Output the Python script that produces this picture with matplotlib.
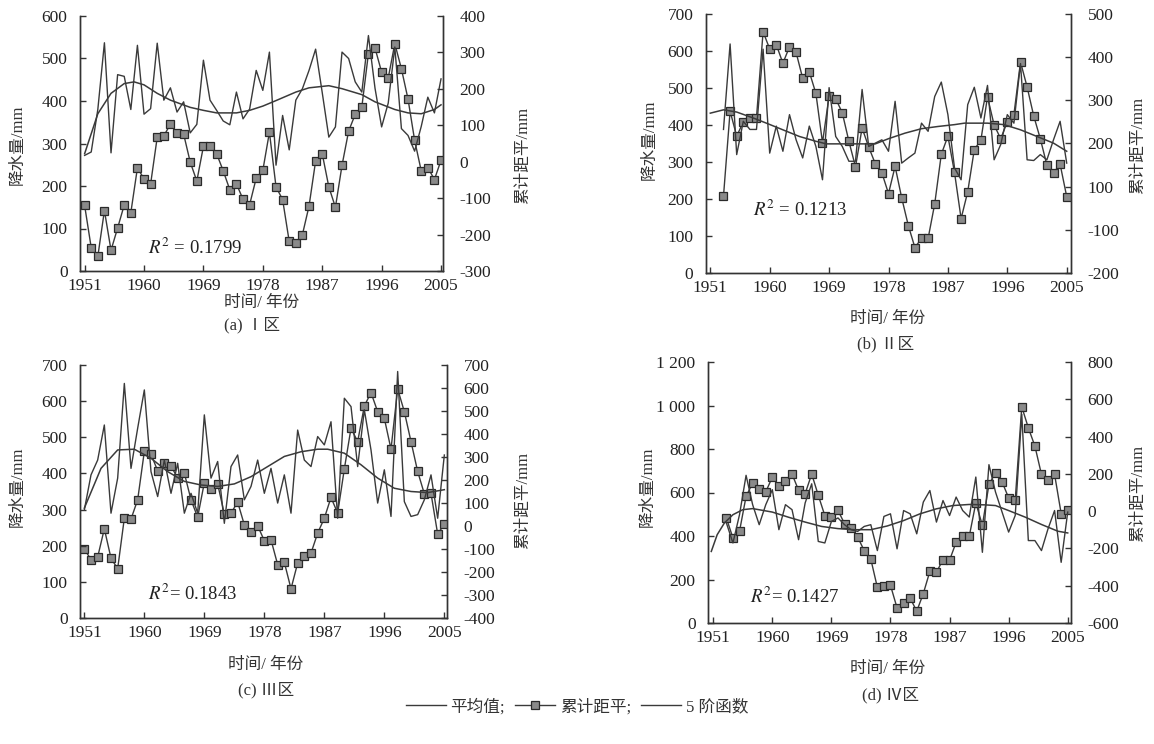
from __future__ import annotations

import matplotlib

matplotlib.use("Agg")
import matplotlib.pyplot as plt
from matplotlib.lines import Line2D

plt.rcParams["font.family"] = ["Liberation Serif", "Noto Sans CJK SC"]
plt.rcParams["mathtext.fontset"] = "stix"
plt.rcParams["axes.unicode_minus"] = False

W, H = 1154, 744
LINE = "#3a3a3a"
FILL = "#8a8a8a"

TICK_YEARS = [1951, 1960, 1969, 1978, 1987, 1996, 2005]
LEGEND_LABELS = ["平均值;", "累计距平;", "5 阶函数"]

# (a) I 区
YEARS_A = list(range(1951, 2006))
PRECIP_A = [272, 280, 380, 537, 278, 462, 458, 380, 531, 369,
            382, 536, 402, 431, 374, 398, 325, 345, 496, 402,
            378, 353, 344, 421, 358, 381, 472, 425, 515, 249,
            366, 285, 402, 429, 472, 522, 420, 315, 339, 515,
            500, 445, 421, 554, 430, 339, 395, 527, 335, 319,
            282, 340, 409, 372, 452]
CUM_A = [-120, -236, -260, -134, -243, -182, -119, -140, -17, -47,
         -61, 67, 71, 103, 80, 76, -1, -53, 42, 42,
         22, -25, -77, -61, -103, -118, -45, -24, 81, -69,
         -104, -219, -224, -200, -122, 2, 22, -69, -125, -10,
         84, 130, 150, 297, 312, 246, 230, 324, 255, 172,
         59, -25, -16, -49, 4]
POLY_YEARS_A = [1951, 1953, 1955, 1957, 1958.5, 1960, 1962, 1964, 1967, 1969, 1971, 1974, 1976,
                1978, 1980, 1983, 1985, 1988, 1990, 1993, 1995, 1998, 2000, 2002, 2004, 2005]
POLY_A = [276, 370, 418, 441, 445, 438, 418, 402, 385, 378, 372, 372, 378,
          388, 401, 421, 431, 436, 429, 415, 398, 380, 372, 370, 380, 391]

# (b) II 区
YEARS_B = list(range(1953, 2006))
PRECIP_B = [388, 619, 320, 410, 388, 388, 605, 324, 397, 329,
            428, 360, 311, 397, 342, 252, 501, 369, 342, 302,
            302, 496, 342, 351, 360, 329, 464, 297, 311, 324,
            405, 383, 477, 516, 428, 284, 252, 455, 502, 419,
            507, 306, 347, 428, 405, 566, 306, 304, 320, 306,
            360, 410, 297]
CUM_B = [-22, 175, 117, 150, 158, 160, 359, 319, 329, 286,
         324, 311, 251, 266, 216, 102, 210, 204, 171, 105,
         46, 136, 92, 53, 32, -16, 47, -26, -90, -141,
         -120, -120, -40, 75, 117, 33, -74, -12, 86, 108,
         208, 143, 111, 150, 167, 289, 231, 164, 111, 50,
         32, 52, -23]
POLY_YEARS_B = [1951, 1953, 1955, 1957.5, 1959.5, 1962, 1964.5, 1967, 1968.6, 1976, 1978,
                1980.5, 1983, 1985.5, 1988, 1989.5, 1993, 1995.5, 1998, 2000.5, 2003, 2005]
POLY_B = [432, 441, 435, 419, 405, 387, 369, 356, 349, 349, 363,
          378, 390, 396, 401, 405, 405, 401, 387, 369, 351, 329]

# (c) III 区
YEARS_C = list(range(1951, 2006))
PRECIP_C = [299, 396, 437, 534, 290, 387, 649, 414, 525, 631,
            405, 336, 437, 345, 428, 290, 345, 290, 562, 387,
            433, 262, 419, 451, 327, 364, 437, 345, 414, 318,
            396, 290, 520, 437, 419, 502, 479, 543, 276, 608,
            585, 419, 576, 465, 318, 410, 281, 682, 322, 281,
            286, 327, 396, 276, 451]
CUM_C = [-99, -147, -135, -12, -140, -186, 34, 30, 114, 324,
         312, 240, 273, 261, 208, 230, 114, 38, 189, 162,
         183, 52, 56, 104, 5, -24, 1, -64, -60, -168,
         -158, -273, -161, -132, -118, -31, 34, 124, 56, 248,
         425, 367, 522, 580, 497, 468, 334, 596, 497, 367,
         237, 140, 142, -35, 8]
POLY_YEARS_C = [1951, 1953.5, 1956, 1958.5, 1961, 1963.5, 1966, 1968.5, 1971, 1973.5, 1976, 1978.5,
                1981, 1983.5, 1986, 1987.5, 1990, 1992.5, 1995, 1997.5, 2000, 2002.5, 2005]
POLY_C = [304, 414, 465, 467, 442, 405, 378, 368, 364, 371, 391, 419,
          447, 460, 467, 467, 456, 424, 387, 359, 350, 347, 355]

# (d) IV 区
YEARS_D = list(range(1953, 2006))
PRECIP_D = [460, 368, 498, 679, 544, 452, 544, 613, 429, 544,
            521, 383, 552, 640, 375, 368, 467, 483, 452, 429,
            421, 444, 452, 333, 490, 502, 341, 517, 502, 410,
            556, 609, 464, 563, 494, 579, 517, 487, 671, 325,
            728, 602, 510, 418, 494, 960, 379, 379, 333, 433,
            517, 279, 510]
CUM_D = [-37, -144, -108, 79, 151, 119, 103, 183, 133, 160,
         199, 112, 94, 199, 85, -24, -30, 4, -67, -90,
         -139, -212, -257, -409, -400, -398, -519, -493, -466, -537,
         -442, -323, -328, -260, -263, -167, -135, -135, 44, -76,
         143, 206, 157, 71, 59, 560, 447, 349, 197, 166,
         197, -13, 5]
POLY_YEARS_D = [1950.7, 1951.6, 1952.7, 1954, 1955.5, 1957, 1960, 1962.5, 1965, 1967.5, 1970, 1972.5, 1975,
                1977.5, 1980, 1982.5, 1985, 1987.5, 1990, 1992.5, 1994, 1996, 1998.5, 2001, 2003.5, 2005]
POLY_D = [329, 406, 460, 498, 521, 526, 510, 486, 464, 444, 434, 429, 429,
          446, 471, 502, 525, 540, 545, 543, 540, 517, 487, 453, 422, 414]

LEFT_TICKS_A = [0, 100, 200, 300, 400, 500, 600]
RIGHT_TICKS_A = [-300, -200, -100, 0, 100, 200, 300, 400]
LEFT_TICKS_B = [0, 100, 200, 300, 400, 500, 600, 700]
RIGHT_TICKS_B = [-200, -100, 0, 100, 200, 300, 400]
RIGHT_LABELS_B = ["-200", "-100", "100", "200", "300", "400", "500"]
LEFT_TICKS_C = [0, 100, 200, 300, 400, 500, 600, 700]
RIGHT_TICKS_C = [-400, -300, -200, -100, 0, 100, 200, 300, 400, 500, 600, 700]
LEFT_TICKS_D = [0, 200, 400, 600, 800, 1000, 1200]
LEFT_LABELS_D = ["0", "200", "400", "600", "800", "1 000", "1 200"]
RIGHT_TICKS_D = [-600, -400, -200, 0, 200, 400, 600, 800]


def px(x: float, y: float) -> tuple[float, float]:
    return x / W, 1 - y / H


def draw_panel(fig, p: dict) -> None:
    left, top, right, bottom = p["box"]
    ax = fig.add_axes([left / W, 1 - bottom / H, (right - left) / W, (bottom - top) / H])
    ax2 = ax.twinx()

    ax.plot(p["years"], p["precip"], color=LINE, lw=1.0, zorder=2)
    ax.plot(p["poly_years"], p["poly"], color=LINE, lw=1.1, zorder=2)
    ax2.plot(p["years"], p["cum"], color=LINE, lw=1.0, marker="s", ms=5.5,
             mfc=FILL, mec="#2a2a2a", mew=0.9, zorder=3)

    ax.set_xlim(*p["xlim"])
    ax.set_xticks(TICK_YEARS)
    ax.set_xticklabels([str(y) for y in TICK_YEARS])
    ax.set_ylim(p["left_ticks"][0], p["left_ticks"][-1])
    ax.set_yticks(p["left_ticks"])
    ax.set_yticklabels(p.get("left_labels", [str(v) for v in p["left_ticks"]]))
    ax2.set_ylim(p["right_ticks"][0], p["right_ticks"][-1])
    ax2.set_yticks(p["right_ticks"])
    ax2.set_yticklabels(p.get("right_labels", [str(v) for v in p["right_ticks"]]))

    for a in (ax, ax2):
        a.spines["top"].set_visible(False)
        for s in a.spines.values():
            s.set_linewidth(1.0)
            s.set_color("#333333")
        a.tick_params(direction="in", length=4, width=1.0, colors="#333333",
                      labelsize=12.5, labelcolor="#222222")
    ax.tick_params(axis="x", pad=5)
    ax.tick_params(axis="y", pad=9)
    ax2.tick_params(axis="y", pad=12)
    ax.set_zorder(ax2.get_zorder() + 1)
    ax.patch.set_visible(False)

    fig.text(*px(*p["r2_pos"]), p["r2"], fontsize=13.5, va="center", ha="left", color="#222222")
    fig.text(*px(*p["ylab_left"]), "降水量/mm", rotation=90, fontsize=12,
             ha="center", va="center", color="#333333")
    fig.text(*px(*p["ylab_right"]), "累计距平/mm", rotation=90, fontsize=12,
             ha="center", va="center", color="#333333")
    fig.text(*px(*p["xlab"]), "时间/ 年份", fontsize=12, ha="center", va="center", color="#333333")
    fig.text(*px(*p["caption"]), p["title"], fontsize=12, ha="center", va="center", color="#333333")


def main() -> None:
    fig = plt.figure(figsize=(W / 100, H / 100), dpi=100)

    panels = [
        {
            "box": (80, 16, 443, 271), "xlim": (1950.3, 2005.3),
            "years": YEARS_A, "precip": PRECIP_A, "cum": CUM_A,
            "poly_years": POLY_YEARS_A, "poly": POLY_A,
            "left_ticks": LEFT_TICKS_A, "right_ticks": RIGHT_TICKS_A,
            "r2": r"$R^2$ = 0.1799", "r2_pos": (148, 248),
            "ylab_left": (18, 145), "ylab_right": (523, 155),
            "xlab": (262, 303), "caption": (252, 325), "title": "(a) Ⅰ区",
        },
        {
            "box": (706, 14, 1071, 273), "xlim": (1950.35, 2005.65),
            "years": YEARS_B, "precip": PRECIP_B, "cum": CUM_B,
            "poly_years": POLY_YEARS_B, "poly": POLY_B,
            "left_ticks": LEFT_TICKS_B, "right_ticks": RIGHT_TICKS_B,
            "right_labels": RIGHT_LABELS_B,
            "r2": r"$R^2$ = 0.1213", "r2_pos": (753, 210),
            "ylab_left": (650, 140), "ylab_right": (1138, 145),
            "xlab": (888, 319), "caption": (886, 344), "title": "(b) Ⅱ区",
        },
        {
            "box": (80, 365, 447, 618), "xlim": (1950.35, 2005.4),
            "years": YEARS_C, "precip": PRECIP_C, "cum": CUM_C,
            "poly_years": POLY_YEARS_C, "poly": POLY_C,
            "left_ticks": LEFT_TICKS_C, "right_ticks": RIGHT_TICKS_C,
            "r2": r"$R^2$= 0.1843", "r2_pos": (148, 594),
            "ylab_left": (18, 487), "ylab_right": (523, 500),
            "xlab": (266, 665), "caption": (266, 690), "title": "(c) Ⅲ区",
        },
        {
            "box": (708, 362, 1071, 623), "xlim": (1950.2, 2005.5),
            "years": YEARS_D, "precip": PRECIP_D, "cum": CUM_D,
            "poly_years": POLY_YEARS_D, "poly": POLY_D,
            "left_ticks": LEFT_TICKS_D, "left_labels": LEFT_LABELS_D,
            "right_ticks": RIGHT_TICKS_D,
            "r2": r"$R^2$= 0.1427", "r2_pos": (750, 597),
            "ylab_left": (648, 487), "ylab_right": (1138, 493),
            "xlab": (888, 669), "caption": (890, 695), "title": "(d) Ⅳ区",
        },
    ]
    for p in panels:
        draw_panel(fig, p)

    handles = [
        Line2D([], [], color=LINE, lw=1.0),
        Line2D([], [], color=LINE, lw=1.0, marker="s", ms=5.5, mfc=FILL, mec="#2a2a2a", mew=0.9),
        Line2D([], [], color=LINE, lw=1.0),
    ]
    fig.legend(handles, LEGEND_LABELS, loc="center", bbox_to_anchor=px(577, 707), ncol=3,
               frameon=False, fontsize=12, handlelength=2.4, handletextpad=0.3,
               columnspacing=0.6, labelcolor="#333333")

    fig.savefig("out.png", dpi=100)
    plt.close(fig)


if __name__ == "__main__":
    main()
